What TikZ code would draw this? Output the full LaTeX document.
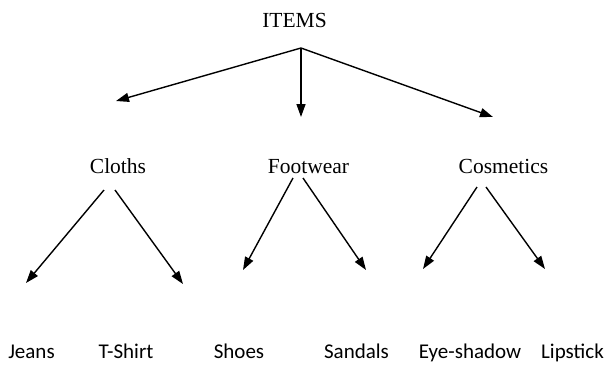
\documentclass[tikz,border=0pt]{standalone}
\usepackage{fontspec}
\setmainfont{Liberation Serif}
\newfontfamily\leaffont{Carlito}
\usetikzlibrary{arrows.meta}
\tikzset{
  toplabel/.style={anchor=base, inner sep=0pt, font=\fontsize{21.5}{24}\selectfont},
  leaflabel/.style={anchor=base, inner sep=0pt, font=\leaffont\fontsize{21}{24}\selectfont},
  link/.style={line width=1.4pt, -{Triangle[length=13pt,width=9pt]}}
}
\begin{document}
\begin{tikzpicture}[x=1pt,y=1pt]
\useasboundingbox (0,0) rectangle (607,-365);
% labels
\node[toplabel] (items) at (294.5,-27) {ITEMS};
\node[toplabel] (cloths) at (118,-173) {Cloths};
\node[toplabel] (footwear) at (308.5,-173) {Footwear};
\node[toplabel] (cosmetics) at (503.5,-173) {Cosmetics};
\node[leaflabel] (jeans) at (31.5,-358) {Jeans};
\node[leaflabel] (tshirt) at (126,-358) {T-Shirt};
\node[leaflabel] (shoes) at (239,-358) {Shoes};
\node[leaflabel] (sandals) at (356.5,-358) {Sandals};
\node[leaflabel] (eyeshadow) at (470,-358) {Eye-shadow};
\node[leaflabel] (lipstick) at (572.5,-358) {Lipstick};
% connector end points
\coordinate (root) at (301,-48);
\coordinate (tipcloths) at (116,-101);
\coordinate (tipfoot) at (301,-117);
\coordinate (tipcos) at (493,-117);
\coordinate (cla) at (104,-190);
\coordinate (clb) at (115,-190);
\coordinate (tipjeans) at (26,-283);
\coordinate (tiptshirt) at (183,-284);
\coordinate (fwa) at (293,-178);
\coordinate (fwb) at (303,-178);
\coordinate (tipshoes) at (243,-270);
\coordinate (tipsandals) at (366,-270);
\coordinate (csa) at (477,-187);
\coordinate (csb) at (486,-187);
\coordinate (tipeye) at (423,-269);
\coordinate (tiplip) at (545,-269);
% connectors
\draw[link] (root) -- (tipcloths);
\draw[link] (root) -- (tipfoot);
\draw[link] (root) -- (tipcos);
\draw[link] (cla) -- (tipjeans);
\draw[link] (clb) -- (tiptshirt);
\draw[link] (fwa) -- (tipshoes);
\draw[link] (fwb) -- (tipsandals);
\draw[link] (csa) -- (tipeye);
\draw[link] (csb) -- (tiplip);
\end{tikzpicture}
\end{document}
